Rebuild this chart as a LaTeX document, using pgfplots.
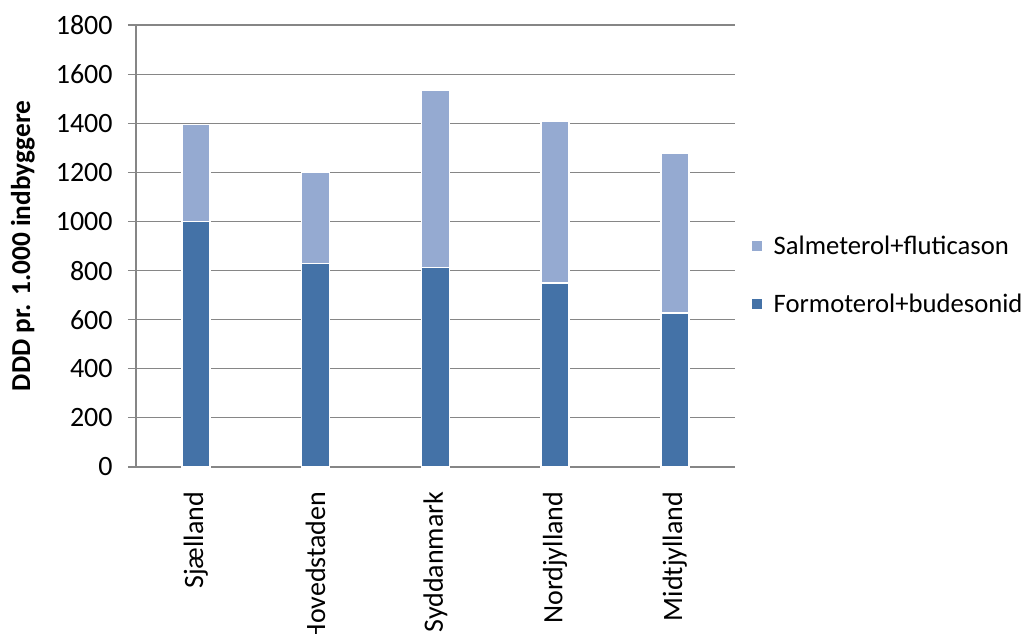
\documentclass[border=0pt]{standalone}
\usepackage{pgfplots}
\pgfplotsset{compat=1.18}
\usepackage{fontspec}
\setmainfont{Carlito}
\definecolor{formo}{RGB}{68,114,167}
\definecolor{salme}{RGB}{149,170,209}
\definecolor{gridgray}{RGB}{134,134,134}

\begin{document}
\begin{tikzpicture}
\begin{axis}[
    scale only axis,
    width=449pt, height=331.5pt,
    ybar stacked, bar width=21pt,
    xmin=-0.5, xmax=4.5,
    ymin=0, ymax=1800,
    xtick=data,
    xticklabels={Sjælland,Hovedstaden,Syddanmark,Nordjylland,Midtjylland},
    x tick label style={rotate=90, anchor=east, xshift=-9pt},
    xtick style={draw=none},
    ytick={0,200,...,1800},
    y tick label style={xshift=-8pt},
    ytick pos=left, tick align=outside,
    major tick length=6pt,
    y tick style={gridgray, line width=0.9pt},
    ymajorgrids, grid style={gridgray, line width=0.9pt},
    axis x line*=bottom, axis y line*=left,
    axis line style={-, gridgray, line width=0.9pt},
    tick label style={font=\fontsize{21}{25}\selectfont},
    /pgf/number format/assume math mode=true,
    /pgf/number format/1000 sep={},
    ylabel={DDD pr. 1.000 indbyggere},
    every axis y label/.style={at={(axis description cs:-0.189,0.5)}, rotate=90, anchor=center,
        font=\fontsize{20.5}{24}\selectfont\bfseries},
    legend style={at={(1.0,0.434)}, anchor=west, xshift=10pt, draw=none, fill=none,
        font=\fontsize{20}{24}\selectfont, row sep=24pt},
    legend cell align=left,
    reverse legend,
    legend image code/.code={\fill[#1, draw=none] (0pt,-3.75pt) rectangle (7.5pt,3.75pt);
        \path (7.5pt,0pt) -- (13.5pt,0pt);},
]
\addplot[fill=formo, draw=white, line width=1.2pt] coordinates {
    (0,1000) (1,828) (2,812) (3,750) (4,628)
};
\addplot[fill=salme, draw=white, line width=1.2pt] coordinates {
    (0,395) (1,374) (2,723) (3,658) (4,651)
};
\legend{Formoterol+budesonid, Salmeterol+fluticason}
\end{axis}
\pgfresetboundingbox
\useasboundingbox (-102pt,-124.5pt) rectangle (666.75pt,350.25pt);
\end{tikzpicture}
\end{document}
